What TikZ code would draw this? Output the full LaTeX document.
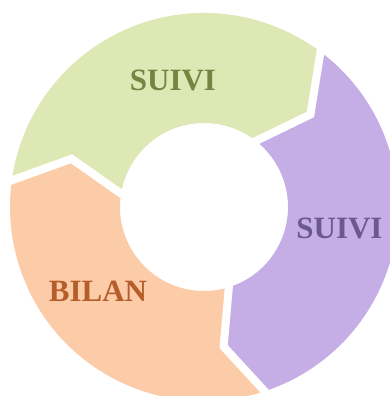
\documentclass[tikz,border=0pt]{standalone}
\usepackage{fontspec}
\setmainfont{Liberation Serif}
\definecolor{suivigreen}{HTML}{DDE8B4}
\definecolor{suivigreentext}{HTML}{768442}
\definecolor{suivipurple}{HTML}{C5AEE5}
\definecolor{suivipurpletext}{HTML}{6A5890}
\definecolor{bilanorange}{HTML}{FCCCA9}
\definecolor{bilanorangetext}{HTML}{B65E2A}
\begin{document}
\begin{tikzpicture}[x=1pt, y=1pt,
        gap/.style={draw=white, line width=8pt, line join=miter},
        label/.style={inner sep=0pt, font=\fontsize{31}{31}\selectfont\bfseries}]
    \useasboundingbox (0,0) rectangle (390,396);
    \begin{scope}[shift={(204,189)}]
        % Segment 1: top (green)
        \fill[suivigreen] (173:194) arc[start angle=173, end angle=54, radius=194]
            -- (41:141) -- (54:84) arc[start angle=54, end angle=173, radius=84]
            -- (160:141) -- cycle;
        % Segment 2: right (purple)
        \fill[suivipurple] (54:194) arc[start angle=54, end angle=-71, radius=194]
            -- (-82:141) -- (-71:84) arc[start angle=-71, end angle=54, radius=84]
            -- (41:141) -- cycle;
        % Segment 3: bottom left (orange)
        \fill[bilanorange] (-71:194) arc[start angle=-71, end angle=-187, radius=194]
            -- (-200:141) -- (-187:84) arc[start angle=-187, end angle=-71, radius=84]
            -- (-82:141) -- cycle;

        % Gaps between segments
        \coordinate (go) at (54:200);  \coordinate (gm) at (41:141);  \coordinate (gi) at (54:78);
        \coordinate (po) at (-71:200); \coordinate (pm) at (-82:141); \coordinate (pi) at (-71:78);
        \coordinate (oo) at (173:200); \coordinate (om) at (160:141); \coordinate (oi) at (173:78);
        \draw[gap] (go) -- (gm) -- (gi);
        \draw[gap] (po) -- (pm) -- (pi);
        \draw[gap] (oo) -- (om) -- (oi);
    \end{scope}

    % Labels
    \node[label, text=suivigreentext] (suivitop) at (173,316) {SUIVI};
    \node[label, text=suivipurpletext] (suiviright) at (339.5,168) {SUIVI};
    \node[label, text=bilanorangetext] (bilan) at (98,105) {BILAN};
\end{tikzpicture}
\end{document}
